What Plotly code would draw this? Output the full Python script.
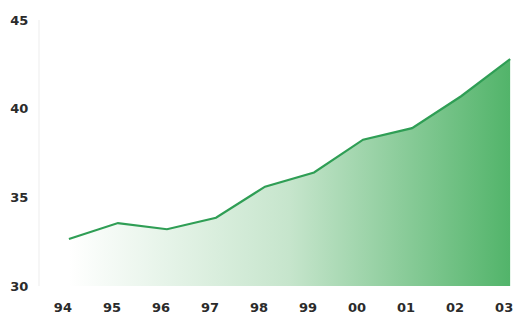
import plotly.graph_objects as go

years = ["94", "95", "96", "97", "98", "99", "00", "01", "02", "03"]
values = [32.65, 33.55, 33.2, 33.85, 35.6, 36.4, 38.25, 38.9, 40.7, 42.8]
y_ticks = [30, 35, 40, 45]

xs = list(range(len(years)))

fig = go.Figure()
fig.add_trace(go.Scatter(
    x=xs, y=values, mode="lines",
    line=dict(color="#2f9e55", width=2.2),
    fill="tozeroy",
    fillgradient=dict(type="horizontal",
                      colorscale=[[0, "rgba(255,255,255,1)"], [0.5, "#c6e5cc"], [1, "#52b46a"]]),
    hoverinfo="skip",
))

fig.update_layout(
    width=522, height=320,
    margin=dict(l=40, r=5, t=20, b=34),
    paper_bgcolor="white", plot_bgcolor="white",
    showlegend=False,
    font=dict(family="DejaVu Sans", size=13, color="#2b2b2b"),
)
fig.update_xaxes(
    range=[-0.59, 9.14],
    tickmode="array", tickvals=xs, ticktext=[f"<b>{t}</b>" for t in years],
    showgrid=False, zeroline=False, showline=False,
    ticklabelstandoff=12, ticklabelshift=-6,
)
fig.update_yaxes(
    range=[30, 45],
    tickmode="array", tickvals=y_ticks, ticktext=[f"<b>{t}</b>" for t in y_ticks],
    showgrid=False, zeroline=False,
    showline=True, linecolor="#f6f6f6", linewidth=2,
    ticklabelstandoff=7,
)

fig.write_html("out.html")
